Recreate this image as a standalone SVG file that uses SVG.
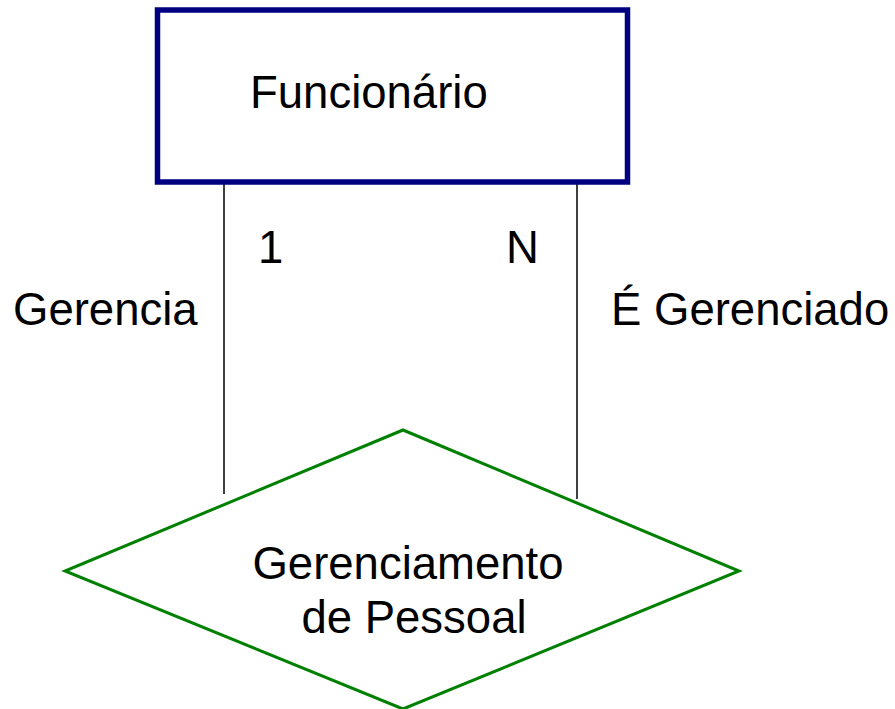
<svg xmlns="http://www.w3.org/2000/svg" width="895" height="709" viewBox="0 0 895 709">
<style>
text{font-family:"Liberation Sans",Arial,sans-serif;font-size:45.5px;fill:#000}
.conn{stroke:#000;stroke-width:1.5;fill:none}
</style>
<rect width="895" height="709" fill="#fff"/>
<g id="connectors">
<line class="conn" x1="224" y1="183" x2="224" y2="494"/>
<line class="conn" x1="577" y1="183" x2="577" y2="499"/>
<text x="258" y="263">1</text>
<text x="506" y="263">N</text>
<text x="13" y="325">Gerencia</text>
<text x="611" y="325">É Gerenciado</text>
</g>
<g id="funcionario">
<rect x="157.5" y="10" width="470" height="172" fill="#fff" stroke="#000080" stroke-width="5.5"/>
<text x="250" y="108">Funcionário</text>
</g>
<g id="gerenciamento">
<polygon points="403,430 739,571 403,709 65,571" fill="none" stroke="#008000" stroke-width="3"/>
<text x="408" y="579" text-anchor="middle">Gerenciamento</text>
<text x="414" y="633" text-anchor="middle">de Pessoal</text>
</g>
</svg>
